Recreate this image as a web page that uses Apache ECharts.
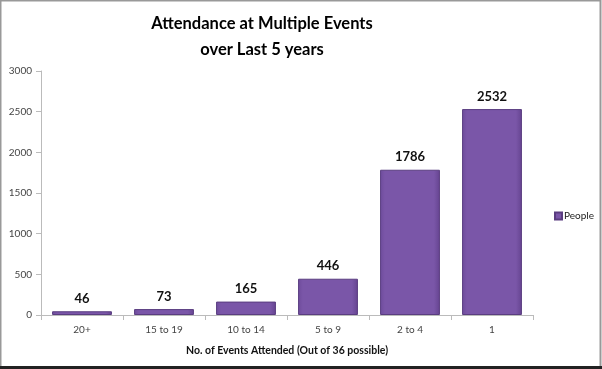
<!DOCTYPE html>
<html><head><meta charset="utf-8">
<script src="https://cdn.jsdelivr.net/npm/echarts@6/dist/echarts.min.js"></script>
<style>html,body{margin:0;padding:0;background:#fff}#c{width:602px;height:369px}</style>
</head><body><div id="c"></div>
<script>
const categories = ['20+', '15 to 19', '10 to 14', '5 to 9', '2 to 4', '1'];
const people = [46, 73, 165, 446, 1786, 2532];
const yTicks = [0, 500, 1000, 1500, 2000, 2500, 3000];
const titleText = 'Attendance at Multiple Events\nover Last 5 years';
const xAxisTitle = 'No. of Events Attended (Out of 36 possible)';
const seriesName = 'People';

const chart = echarts.init(document.getElementById('c'), null, {renderer: 'canvas'});
chart.setOption({
  animation: false,
  backgroundColor: '#fff',
  title: {
    text: titleText, top: 6, left: 257,
    textAlign: 'center',
    textStyle: {fontFamily: 'Lato', fontWeight: 'bold', fontSize: 16.5, lineHeight: 26, color: '#000'}
  },
  legend: {
    data: [seriesName], orient: 'vertical', left: 549, top: 206,
    itemWidth: 7, itemHeight: 7, itemGap: 4, icon: 'rect',
    textStyle: {fontFamily: 'Lato', fontSize: 10, color: '#222', padding: [0,0,0,-3]}
  },
  grid: {left: 41, right: 69, top: 71, bottom: 54, containLabel: false},
  xAxis: {
    type: 'category', data: categories,
    name: xAxisTitle, nameLocation: 'middle', nameGap: 30,
    nameTextStyle: {fontFamily: 'Lato', fontWeight: 'bold', fontSize: 10.5, color: '#111'},
    axisLine: {lineStyle: {color: '#bbb'}},
    axisTick: {show: true, length: 5, lineStyle: {color: '#bbb'}},
    axisLabel: {fontFamily: 'Lato', fontSize: 10, color: '#444', margin: 10}
  },
  yAxis: {
    type: 'value', min: yTicks[0], max: yTicks[yTicks.length - 1], interval: 500,
    splitLine: {show: false},
    axisLine: {show: true, lineStyle: {color: '#bbb'}},
    axisTick: {show: true, length: 5, lineStyle: {color: '#bbb'}},
    axisLabel: {fontFamily: 'Lato', fontSize: 10, color: '#444', margin: 9, formatter: v => String(v)}
  },
  graphic: [
    {type: 'rect', shape: {x: 0.5, y: 0.5, width: 600, height: 367}, style: {fill: 'none', stroke: '#999', lineWidth: 2}, z: 100},
    {type: 'rect', shape: {x: 0, y: 366, width: 602, height: 3}, style: {fill: '#222'}, z: 101}
  ],
  series: [{
    name: seriesName, type: 'bar', data: people, barCategoryGap: '27%',
    itemStyle: {
      color: new echarts.graphic.LinearGradient(0, 0, 1, 0, [
        {offset: 0, color: '#6e4b9b'}, {offset: 0.08, color: '#7a56a8'},
        {offset: 0.9, color: '#7a56a8'}, {offset: 1, color: '#654490'}
      ]),
      borderColor: '#5a3d80', borderWidth: 1
    },
    label: {show: true, position: 'top', distance: 6, fontFamily: 'Lato', fontWeight: 'bold', fontSize: 13, color: '#111'}
  }]
});
</script></body></html>
